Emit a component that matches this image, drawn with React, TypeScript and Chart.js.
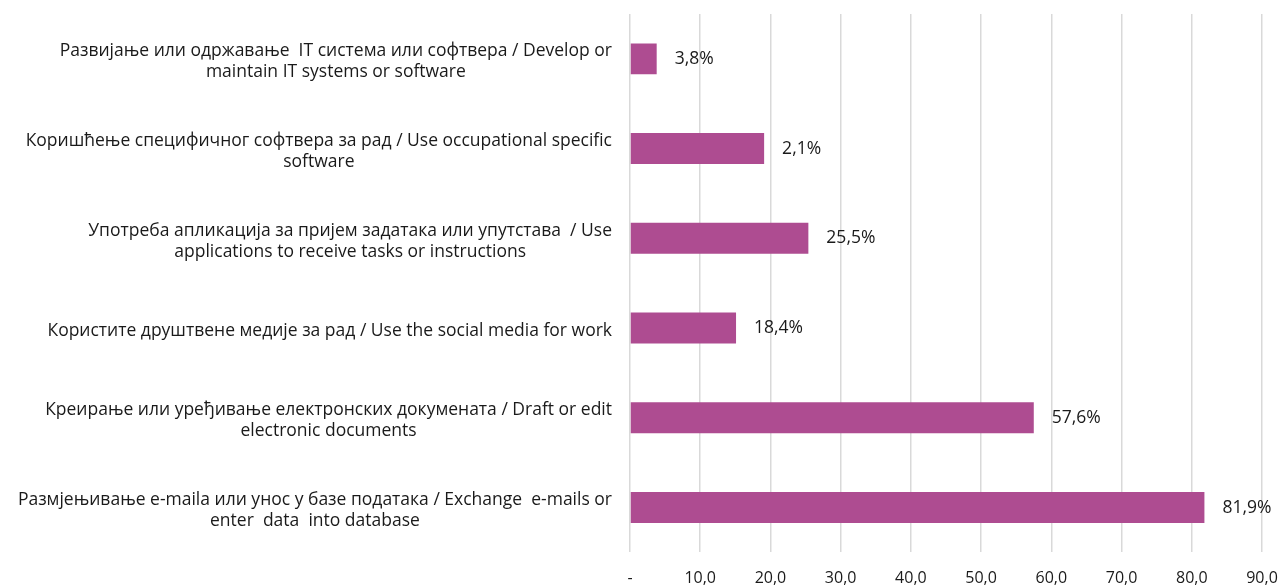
import React, { useEffect, useRef } from 'react';
import { Chart, registerables } from 'chart.js';

Chart.register(...registerables);

const categories: string[][] = [
  ['Развијање или одржавање  IT система или софтвера / Develop or', 'maintain IT systems or software'],
  ['Коришћење специфичног софтвера за рад / Use occupational specific', 'software'],
  ['Употреба апликација за пријем задатака или упутстава  / Use', 'applications to receive tasks or instructions'],
  ['Користите друштвене медије за рад / Use the social media for work'],
  ['Креирање или уређивање електронских докумената / Draft or edit', 'electronic documents'],
  ['Размјењивање e-maila или унос у базе података / Exchange  e-mails or', 'enter  data  into database'],
];

const values: number[] = [3.8, 19.1, 25.4, 15.1, 57.5, 81.8];

const valueLabels: string[] = ['3,8%', '2,1%', '25,5%', '18,4%', '57,6%', '81,9%'];

const xTickLabels: string[] = ['-', '10,0', '20,0', '30,0', '40,0', '50,0', '60,0', '70,0', '80,0', '90,0'];

const FONT_FAMILY = '"Open Sans", sans-serif';
const TEXT_COLOR = '#1a1a1a';

const labelPlugin = {
  id: 'customLabels',
  afterDatasetsDraw(chart: any) {
    const ctx = chart.ctx as CanvasRenderingContext2D;
    const yScale = chart.scales.y;
    const meta = chart.getDatasetMeta(0);
    ctx.save();
    ctx.font = `17.5px ${FONT_FAMILY}`;
    ctx.fillStyle = TEXT_COLOR;
    ctx.textBaseline = 'middle';
    const lh = 21;
    categories.forEach((lines, i) => {
      const cy = yScale.getPixelForTick(i) + 3;
      const w = Math.max(...lines.map((l) => ctx.measureText(l).width));
      const right = chart.chartArea.left - 18;
      const cx = right - w / 2;
      ctx.textAlign = 'center';
      lines.forEach((l, j) => {
        ctx.fillText(l, cx, cy + (j - (lines.length - 1) / 2) * lh);
      });
    });
    meta.data.forEach((bar: any, i: number) => {
      ctx.textAlign = 'left';
      ctx.fillText(valueLabels[i], bar.x + 18, bar.y);
    });
    ctx.restore();
  },
};

export default function App() {
  const canvasRef = useRef<HTMLCanvasElement | null>(null);

  useEffect(() => {
    if (!canvasRef.current) return;
    const chart = new Chart(canvasRef.current, {
      type: 'bar',
      data: {
        labels: categories.map((c) => c.join(' ')),
        datasets: [
          {
            data: values,
            backgroundColor: '#ae4c91',
            borderWidth: 0,
            barPercentage: 0.345,
            categoryPercentage: 1,
          },
        ],
      },
      options: {
        indexAxis: 'y',
        animation: false,
        responsive: true,
        maintainAspectRatio: false,
        layout: { padding: { top: 14, right: 19, bottom: 0, left: 0 } },
        plugins: {
          legend: { display: false },
          tooltip: { enabled: false },
        },
        scales: {
          x: {
            min: 0,
            max: 90,
            grid: { color: '#d9d9d9', lineWidth: 1.5, drawTicks: false },
            border: { display: false },
            ticks: {
              stepSize: 10,
              padding: 16,
              color: TEXT_COLOR,
              font: { family: FONT_FAMILY, size: 16 },
              callback: (_v: any, i: number) => xTickLabels[i],
            },
            afterFit: (scale: any) => {
              scale.height = 33.6;
              scale.paddingRight = 0;
              scale.paddingLeft = 0;
            },
          },
          y: {
            grid: { display: false },
            border: { display: false },
            ticks: { display: false },
            afterFit: (scale: any) => {
              scale.width = 630;
            },
          },
        },
      },
      plugins: [labelPlugin],
    });
    return () => chart.destroy();
  }, []);

  return (
    <div style={{ position: 'absolute', left: 0, top: 0, width: 1281, height: 586 }}>
      <canvas ref={canvasRef} />
    </div>
  );
}
